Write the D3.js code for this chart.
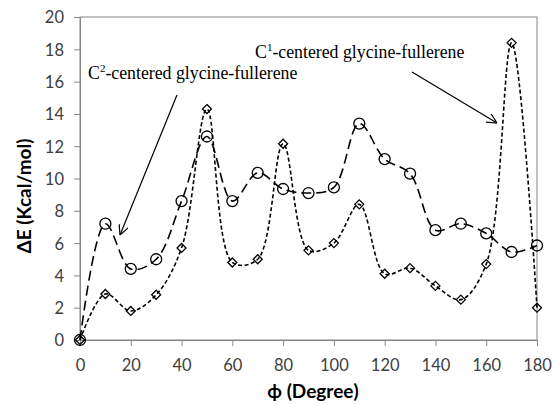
<!DOCTYPE html>
<html>
<head>
<meta charset="utf-8">
<script src="https://cdn.jsdelivr.net/npm/d3@7"></script>
<style>
  body { margin: 0; background: #fff; }
  svg { display: block; }
  .tick text { font-family: Lato, "Liberation Sans", sans-serif; font-size: 16.5px; fill: #404040; }
  .axis-title { font-family: Lato, "Liberation Sans", sans-serif; font-size: 19px; font-weight: bold; fill: #000; }
  .note { font-family: "Liberation Serif", "Times New Roman", serif; font-size: 17.8px; fill: #000; }
</style>
</head>
<body>
<svg id="chart" width="554" height="405"></svg>
<script>
// angles (degree)
var angles = [0, 10, 20, 30, 40, 50, 60, 70, 80, 90, 100, 110, 120, 130, 140, 150, 160, 170, 180];
// C2-centered (circles, long dash)
var c2Values = [0, 7.2, 4.4, 5.0, 8.6, 12.6, 8.6, 10.35, 9.35, 9.1, 9.45, 13.4, 11.2, 10.3, 6.8, 7.2, 6.6, 5.45, 5.85];
// C1-centered (diamonds, short dash)
var c1Values = [0, 2.85, 1.8, 2.8, 5.7, 14.3, 4.8, 5.0, 12.15, 5.55, 6.0, 8.4, 4.1, 4.45, 3.35, 2.5, 4.7, 18.4, 2.0];
var xTicks = [0, 20, 40, 60, 80, 100, 120, 140, 160, 180];
var yTicks = [0, 2, 4, 6, 8, 10, 12, 14, 16, 18, 20];

var margin = {top: 17, right: 17, bottom: 65, left: 80};
var W = 554, H = 405;
var w = W - margin.left - margin.right;
var h = H - margin.top - margin.bottom;

var svg = d3.select("#chart");
var g = svg.append("g").attr("transform", "translate(" + margin.left + "," + margin.top + ")");

var x = d3.scaleLinear().domain([0, 180]).range([0, w]);
var y = d3.scaleLinear().domain([0, 20]).range([h, 0]);

// plot area frame
g.append("rect")
  .attr("x", 0).attr("y", 0).attr("width", w).attr("height", h)
  .attr("fill", "none").attr("stroke", "#868686").attr("stroke-width", 1);

var xAxis = g.append("g").attr("transform", "translate(0," + h + ")")
  .call(d3.axisBottom(x).tickValues(xTicks).tickSize(6).tickPadding(13));
var yAxis = g.append("g")
  .call(d3.axisLeft(y).tickValues(yTicks).tickSize(6).tickPadding(10));
[xAxis, yAxis].forEach(function(a){
  a.select(".domain").attr("stroke", "#868686");
  a.selectAll(".tick line").attr("stroke", "#868686");
});
yAxis.selectAll(".tick text").attr("dy", "0.36em");

var line = d3.line()
  .x(function(d, i){ return x(angles[i]); })
  .y(function(d){ return y(d); })
  .curve(d3.curveCatmullRom.alpha(0.5));

// C1 series (short dash, diamonds)
g.append("path").datum(c1Values)
  .attr("d", line).attr("fill", "none")
  .attr("stroke", "#000").attr("stroke-width", 1.6)
  .attr("stroke-dasharray", "4,2.5");

// C2 series (long dash, circles)
g.append("path").datum(c2Values)
  .attr("d", line).attr("fill", "none")
  .attr("stroke", "#000").attr("stroke-width", 1.6)
  .attr("stroke-dasharray", "10,5");

g.selectAll(".dia").data(c1Values).enter()
  .append("path").attr("class", "dia")
  .attr("d", "M0,-4.5L4.5,0L0,4.5L-4.5,0Z")
  .attr("transform", function(d, i){ return "translate(" + x(angles[i]) + "," + y(d) + ")"; })
  .attr("fill", "none").attr("stroke", "#000").attr("stroke-width", 1.3);

g.selectAll(".cir").data(c2Values).enter()
  .append("circle").attr("class", "cir")
  .attr("cx", function(d, i){ return x(angles[i]); })
  .attr("cy", function(d){ return y(d); })
  .attr("r", 5.5)
  .attr("fill", "none").attr("stroke", "#000").attr("stroke-width", 1.3);

// axis titles
svg.append("text").attr("class", "axis-title")
  .attr("text-anchor", "middle")
  .attr("transform", "translate(31,196) rotate(-90)")
  .text("ΔE (Kcal/mol)");
svg.append("text").attr("class", "axis-title")
  .attr("text-anchor", "middle")
  .attr("x", 313).attr("y", 398)
  .text("ϕ (Degree)");

// annotations
svg.append("defs").append("marker")
  .attr("id", "arr").attr("viewBox", "0 0 10 10")
  .attr("refX", 10).attr("refY", 5)
  .attr("markerWidth", 10).attr("markerHeight", 10)
  .attr("markerUnits", "userSpaceOnUse")
  .attr("orient", "auto")
  .append("path").attr("d", "M0,0L10,5L0,10").attr("fill", "none").attr("stroke", "#000").attr("stroke-width", 1.2);

var t2 = svg.append("text").attr("class", "note").attr("x", 88).attr("y", 79);
t2.append("tspan").text("C");
t2.append("tspan").attr("dy", -7).attr("font-size", "11px").text("2");
t2.append("tspan").attr("dy", 7).text("-centered glycine-fullerene");

var t1 = svg.append("text").attr("class", "note").attr("x", 255).attr("y", 58);
t1.append("tspan").text("C");
t1.append("tspan").attr("dy", -7).attr("font-size", "11px").text("1");
t1.append("tspan").attr("dy", 7).text("-centered glycine-fullerene");

svg.append("line").attr("x1", 177).attr("y1", 95).attr("x2", 120).attr("y2", 235)
  .attr("stroke", "#000").attr("stroke-width", 1.2).attr("marker-end", "url(#arr)");
svg.append("line").attr("x1", 412).attr("y1", 72).attr("x2", 497).attr("y2", 123)
  .attr("stroke", "#000").attr("stroke-width", 1.2).attr("marker-end", "url(#arr)");
</script>
</body>
</html>
